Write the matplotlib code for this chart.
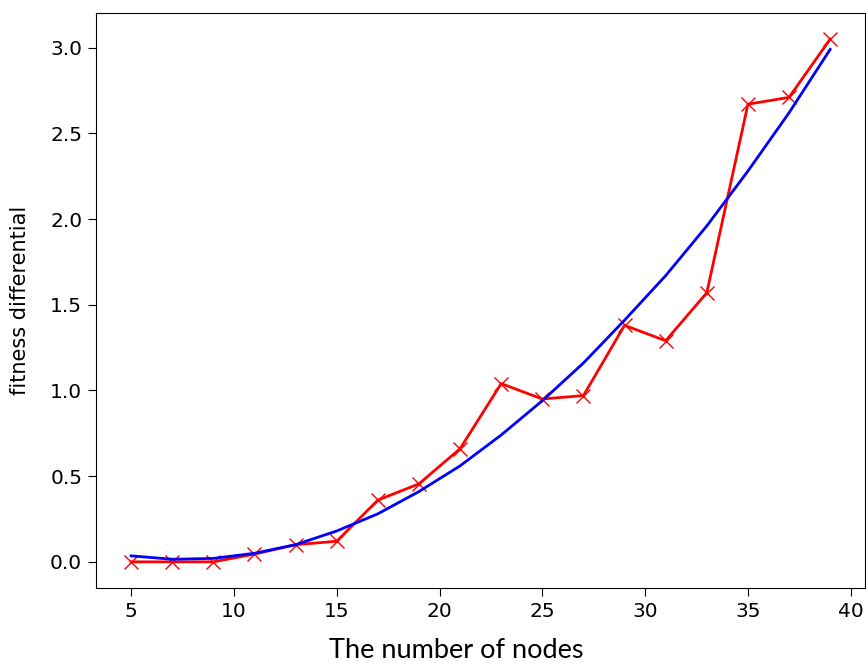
import matplotlib
matplotlib.use("Agg")
from matplotlib import pyplot as plt

nodes = [5, 7, 9, 11, 13, 15, 17, 19, 21, 23, 25, 27, 29, 31, 33, 35, 37, 39]
measured = [0.0, 0.0, 0.0, 0.045, 0.10, 0.12, 0.36, 0.455, 0.66, 1.04,
            0.95, 0.97, 1.38, 1.29, 1.57, 2.67, 2.71, 3.05]
fitted = [0.035, 0.015, 0.02, 0.05, 0.10, 0.18, 0.28, 0.41, 0.56, 0.74,
          0.94, 1.16, 1.41, 1.67, 1.96, 2.28, 2.62, 2.99]

fig = plt.figure(figsize=(8.66, 6.64), dpi=100)
ax = fig.add_axes([0.111, 0.1145, 0.888, 0.866])

ax.plot(nodes, measured, 'r-', marker='x', markersize=10, linewidth=2)
ax.plot(nodes, fitted, 'b-', linewidth=2)

ax.tick_params(labelsize=14.5, length=6, pad=4)
ax.set_ylabel("fitness differential", fontsize=15)
ax.yaxis.set_label_coords(-0.086, 0.5)

fig.text(0.527, 0.021, "The number of nodes", fontsize=19.5, family="Lato",
         ha='center', va='center')

fig.savefig("out.png", dpi=100)
